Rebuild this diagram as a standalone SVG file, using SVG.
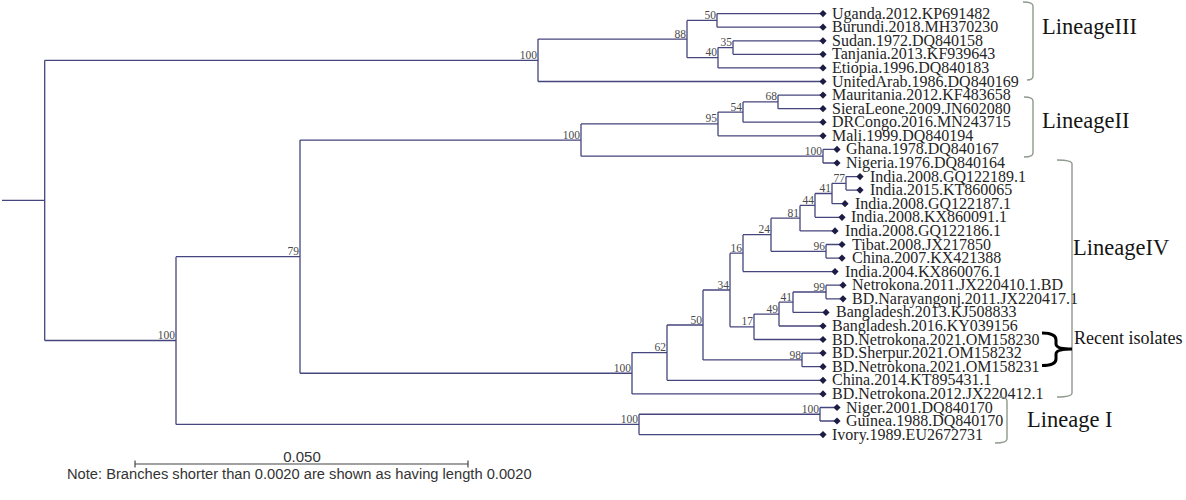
<svg xmlns="http://www.w3.org/2000/svg" width="1186" height="500" viewBox="0 0 1186 500">
<style>
.br{fill:none;stroke:#46467e;stroke-width:1.3}
.tip{font-family:"Liberation Serif","Times New Roman",serif;font-size:16px;fill:#252525}
.bs{font-family:"Liberation Serif","Times New Roman",serif;font-size:11.5px;fill:#4a4a4a;text-anchor:end}
.lin{font-family:"Liberation Serif","Times New Roman",serif;font-size:22.5px;fill:#151515}
.bk{fill:none;stroke:#8e9a8e;stroke-width:1.4}
.sc{font-family:"Liberation Sans",Arial,sans-serif;fill:#333}
.dm{fill:#1c1c44}
</style>
<defs>
<path id="d" class="dm" d="M0,-3.6 L3.6,0 L0,3.6 L-3.6,0 Z"/>
</defs>
<rect width="1186" height="500" fill="#fff"/>
<g id="connectors" class="br">
<path d="M2,200.4 H44.7 M44.7,60.3 V340.5 M44.7,60.3 H538 M44.7,340.5 H176"/>
<path d="M538,39.05 V81.5 M538,39.05 H687 M538,81.5 H823"/>
<path d="M687,20.4 V57.7 M687,20.4 H717 M687,57.7 H718"/>
<path d="M717,13.6 V27.2 M717,13.6 H823 M717,27.2 H823"/>
<path d="M718,47.55 V67.9 M718,47.55 H733 M718,67.9 H823"/>
<path d="M733,40.8 V54.3 M733,40.8 H823 M733,54.3 H823"/>
<path d="M176,256.65 V424.4 M176,256.65 H300 M176,424.4 H639"/>
<path d="M300,140.05 V373.25 M300,140.05 H581 M300,373.25 H632"/>
<path d="M581,123.9 V156.2 M581,123.9 H718 M581,156.2 H823"/>
<path d="M718,112.05 V135.8 M718,112.05 H743 M718,135.8 H823"/>
<path d="M743,101.9 V122.2 M743,101.9 H778 M743,122.2 H823"/>
<path d="M778,95.1 V108.7 M778,95.1 H823 M778,108.7 H823"/>
<path d="M823,149.4 V163 M823,149.4 H837 M823,163 H837"/>
<path d="M632,352.6 V393.9 M632,352.6 H667 M632,393.9 H823"/>
<path d="M667,325 V380.3 M667,325 H703 M667,380.3 H823"/>
<path d="M703,290 V359.9 M703,290 H730 M703,359.9 H802"/>
<path d="M802,353.1 V366.7 M802,353.1 H823 M802,366.7 H823"/>
<path d="M730,253.15 V326.8 M730,253.15 H743 M730,326.8 H754"/>
<path d="M743,234.7 V271.6 M743,234.7 H771 M743,271.6 H835"/>
<path d="M771,218.15 V251.3 M771,218.15 H800 M771,251.3 H826"/>
<path d="M800,205.4 V230.9 M800,205.4 H815 M800,230.9 H835"/>
<path d="M815,193.5 V217.3 M815,193.5 H832 M815,217.3 H842"/>
<path d="M832,183.35 V203.7 M832,183.35 H846 M832,203.7 H845"/>
<path d="M846,176.6 V190.1 M846,176.6 H860 M846,190.1 H860"/>
<path d="M826,244.5 V258.1 M826,244.5 H842 M826,258.1 H842"/>
<path d="M754,314.1 V339.5 M754,314.1 H779 M754,339.5 H823"/>
<path d="M779,302.2 V326 M779,302.2 H793 M779,326 H823"/>
<path d="M793,292 V312.4 M793,292 H826 M793,312.4 H826"/>
<path d="M826,285.2 V298.8 M826,285.2 H843 M826,298.8 H843"/>
<path d="M639,414.25 V434.6 M639,414.25 H820 M639,434.6 H823"/>
<path d="M820,407.5 V421 M820,407.5 H837 M820,421 H837"/>
</g>
<g id="support">
<g id="n-L3"><text class="bs" x="537" y="58.5">100</text></g>
<g id="n-88"><text class="bs" x="686" y="37.5">88</text></g>
<g id="n-50a"><text class="bs" x="716" y="18.5">50</text></g>
<g id="n-40"><text class="bs" x="717" y="56">40</text></g>
<g id="n-35"><text class="bs" x="732" y="46">35</text></g>
<g id="n-L2"><text class="bs" x="580" y="138.5">100</text></g>
<g id="n-95"><text class="bs" x="717" y="122">95</text></g>
<g id="n-54"><text class="bs" x="742" y="110.5">54</text></g>
<g id="n-68"><text class="bs" x="777" y="100">68</text></g>
<g id="n-GN"><text class="bs" x="822" y="154.5">100</text></g>
<g id="n-79"><text class="bs" x="299" y="255">79</text></g>
<g id="n-176"><text class="bs" x="175" y="339">100</text></g>
<g id="n-L4"><text class="bs" x="631" y="371.5">100</text></g>
<g id="n-62"><text class="bs" x="666" y="351">62</text></g>
<g id="n-50b"><text class="bs" x="702" y="323.5">50</text></g>
<g id="n-98"><text class="bs" x="801" y="358.5">98</text></g>
<g id="n-34"><text class="bs" x="729" y="288.5">34</text></g>
<g id="n-16"><text class="bs" x="742" y="251.5">16</text></g>
<g id="n-24"><text class="bs" x="770" y="233">24</text></g>
<g id="n-81"><text class="bs" x="799" y="216.5">81</text></g>
<g id="n-44"><text class="bs" x="814" y="204">44</text></g>
<g id="n-41a"><text class="bs" x="831" y="192">41</text></g>
<g id="n-77"><text class="bs" x="845" y="181.5">77</text></g>
<g id="n-96"><text class="bs" x="825" y="249.5">96</text></g>
<g id="n-17"><text class="bs" x="753" y="325">17</text></g>
<g id="n-49"><text class="bs" x="778" y="312.5">49</text></g>
<g id="n-41b"><text class="bs" x="792" y="300.5">41</text></g>
<g id="n-99"><text class="bs" x="825" y="290.5">99</text></g>
<g id="n-L1"><text class="bs" x="638" y="422.5">100</text></g>
<g id="n-NG"><text class="bs" x="819" y="412.5">100</text></g>
</g>
<g id="tips">
<g id="t1"><use href="#d" x="823" y="13.6"/><text class="tip" x="832" y="18.6">Uganda.2012.KP691482</text></g>
<g id="t2"><use href="#d" x="823" y="27.2"/><text class="tip" x="832" y="32.2">Burundi.2018.MH370230</text></g>
<g id="t3"><use href="#d" x="823" y="40.8"/><text class="tip" x="832" y="45.8">Sudan.1972.DQ840158</text></g>
<g id="t4"><use href="#d" x="823" y="54.3"/><text class="tip" x="832" y="59.3">Tanjania.2013.KF939643</text></g>
<g id="t5"><use href="#d" x="823" y="67.9"/><text class="tip" x="832" y="72.9">Etiopia.1996.DQ840183</text></g>
<g id="t6"><use href="#d" x="823" y="81.5"/><text class="tip" x="832" y="86.5">UnitedArab.1986.DQ840169</text></g>
<g id="t7"><use href="#d" x="823" y="95.1"/><text class="tip" x="832" y="100.1">Mauritania.2012.KF483658</text></g>
<g id="t8"><use href="#d" x="823" y="108.7"/><text class="tip" x="832" y="113.7">SieraLeone.2009.JN602080</text></g>
<g id="t9"><use href="#d" x="823" y="122.2"/><text class="tip" x="832" y="127.2">DRCongo.2016.MN243715</text></g>
<g id="t10"><use href="#d" x="823" y="135.8"/><text class="tip" x="832" y="140.8">Mali.1999.DQ840194</text></g>
<g id="t11"><use href="#d" x="837" y="149.4"/><text class="tip" x="846" y="154.4">Ghana.1978.DQ840167</text></g>
<g id="t12"><use href="#d" x="837" y="163"/><text class="tip" x="846" y="168">Nigeria.1976.DQ840164</text></g>
<g id="t13"><use href="#d" x="860" y="176.6"/><text class="tip" x="870" y="181.6">India.2008.GQ122189.1</text></g>
<g id="t14"><use href="#d" x="860" y="190.1"/><text class="tip" x="870" y="195.1">India.2015.KT860065</text></g>
<g id="t15"><use href="#d" x="845" y="203.7"/><text class="tip" x="855" y="208.7">India.2008.GQ122187.1</text></g>
<g id="t16"><use href="#d" x="842" y="217.3"/><text class="tip" x="851" y="222.3">India.2008.KX860091.1</text></g>
<g id="t17"><use href="#d" x="835" y="230.9"/><text class="tip" x="845" y="235.9">India.2008.GQ122186.1</text></g>
<g id="t18"><use href="#d" x="842" y="244.5"/><text class="tip" x="852" y="249.5">Tibat.2008.JX217850</text></g>
<g id="t19"><use href="#d" x="842" y="258.1"/><text class="tip" x="852" y="263.1">China.2007.KX421388</text></g>
<g id="t20"><use href="#d" x="835" y="271.6"/><text class="tip" x="845" y="276.6">India.2004.KX860076.1</text></g>
<g id="t21"><use href="#d" x="843" y="285.2"/><text class="tip" x="852" y="290.2">Netrokona.2011.JX220410.1.BD</text></g>
<g id="t22"><use href="#d" x="843" y="298.8"/><text class="tip" x="852" y="303.8">BD.Narayangonj.2011.JX220417.1</text></g>
<g id="t23"><use href="#d" x="826" y="312.4"/><text class="tip" x="836" y="317.4">Bangladesh.2013.KJ508833</text></g>
<g id="t24"><use href="#d" x="823" y="326"/><text class="tip" x="832" y="331">Bangladesh.2016.KY039156</text></g>
<g id="t25"><use href="#d" x="823" y="339.5"/><text class="tip" x="832" y="344.5">BD.Netrokona.2021.OM158230</text></g>
<g id="t26"><use href="#d" x="823" y="353.1"/><text class="tip" x="832" y="358.1">BD.Sherpur.2021.OM158232</text></g>
<g id="t27"><use href="#d" x="823" y="366.7"/><text class="tip" x="832" y="371.7">BD.Netrokona.2021.OM158231</text></g>
<g id="t28"><use href="#d" x="823" y="380.3"/><text class="tip" x="832" y="385.3">China.2014.KT895431.1</text></g>
<g id="t29"><use href="#d" x="823" y="393.9"/><text class="tip" x="832" y="398.9">BD.Netrokona.2012.JX220412.1</text></g>
<g id="t30"><use href="#d" x="837" y="407.5"/><text class="tip" x="846" y="412.5">Niger.2001.DQ840170</text></g>
<g id="t31"><use href="#d" x="837" y="421"/><text class="tip" x="846" y="426">Guinea.1988.DQ840170</text></g>
<g id="t32"><use href="#d" x="823" y="434.6"/><text class="tip" x="832" y="439.6">Ivory.1989.EU2672731</text></g>
</g>
<g id="lineages">
<g id="lin3"><path class="bk" d="M1023,2 Q1033,2 1033,6 V76 Q1033,80 1027,80"/><text class="lin" x="1042" y="34">LineageIII</text></g>
<g id="lin2"><path class="bk" d="M1024,97 Q1033,97 1033,101 V153 Q1033,157 1024,157"/><text class="lin" x="1042" y="128">LineageII</text></g>
<g id="lin4"><path class="bk" d="M1057,160 Q1072,160 1072,164 V393 Q1072,397 1057,397"/><text class="lin" x="1073" y="255">LineageIV</text></g>
<g id="lin1"><path class="bk" d="M999,397 Q1007,397 1007,401 V439 Q1007,443 995,443"/><text class="lin" x="1027" y="427">Lineage I</text></g>
<g id="recent"><path d="M1042,333 Q1056,333 1056,340 V344 Q1056,349 1072,349 Q1056,349 1056,354 V359 Q1056,365.5 1042,365.5" fill="none" stroke="#000" stroke-width="3"/><text x="1074" y="344" style="font-family:'Liberation Serif','Times New Roman',serif;font-size:18px;fill:#151515">Recent isolates</text></g>
</g>
<g id="scale">
<path d="M135,464 H468 M135,460.5 V467.5 M468,460.5 V467.5" fill="none" stroke="#444" stroke-width="1.2"/>
<text class="sc" x="302" y="461.5" font-size="15" text-anchor="middle">0.050</text>
<text class="sc" x="67" y="479" font-size="14.7">Note: Branches shorter than 0.0020 are shown as having length 0.0020</text>
</g>
</svg>
